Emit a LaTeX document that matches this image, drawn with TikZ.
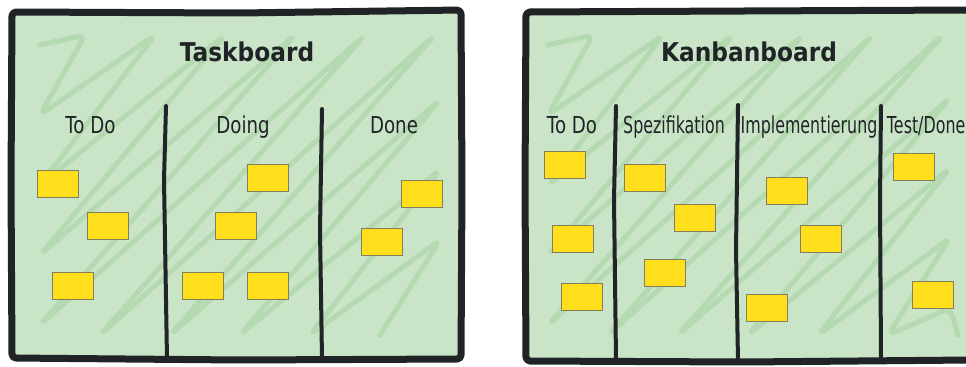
\documentclass[tikz,border=0pt]{standalone}
\usepackage{fontspec}
\setmainfont{DejaVu Sans}
\newfontfamily\boardfont[FakeStretch=0.9]{DejaVu Sans}
\newfontfamily\headfont[FakeStretch=0.78]{DejaVu Sans}
\newfontfamily\headnarrow[FakeStretch=0.68]{DejaVu Sans}
\usepackage{tikz}
\definecolor{boardgreen}{HTML}{C9E4C7}
\definecolor{scribblegreen}{HTML}{B5DAB2}
\definecolor{inkdark}{HTML}{212427}
\definecolor{stickyyellow}{HTML}{FFDE1C}
\definecolor{stickyedge}{HTML}{857E5A}

\begin{document}
\begin{tikzpicture}[x=0.75pt,y=-0.75pt,
  board/.style={draw=inkdark,line width=5.25pt,fill=boardgreen,line join=round,rounded corners=3pt},
  scribble/.style={draw=scribblegreen,line width=3.75pt,line cap=round,line join=round,rounded corners=6pt},
  divider/.style={draw=inkdark,line width=3pt,line cap=round},
  sticky/.style={draw=stickyedge,line width=0.75pt,fill=stickyyellow,minimum width=30.75pt,minimum height=20.25pt,inner sep=0pt},
  title/.style={font=\boardfont\bfseries\fontsize{19.4}{22}\selectfont,text=inkdark,anchor=base},
  colhead/.style={font=\headfont\fontsize{17.5}{20}\selectfont,text=inkdark,anchor=base,inner sep=0pt},
  colnarrow/.style={font=\headnarrow\fontsize{17.5}{20}\selectfont,text=inkdark,anchor=base,inner sep=0pt}]
\useasboundingbox (0,0) rectangle (966,367);
\clip (0,0) rectangle (966,367);

% Taskboard
\draw[board] (12,12) -- (240,13) -- (461,10) -- (462,185) -- (461,359) -- (240,360) -- (12,358) -- (11,185) -- cycle;
\draw[scribble] (40,45) \foreach \s in {120,190,...,680} {
  -- ({min(440,\s-35)},{max(35,\s-440)}) -- ({max(40,\s-300)},{min(335,\s-5)}) };
\draw[divider] (166,106) -- (164,180) -- (167,359);
\draw[divider] (322,109) -- (320,230) -- (322,359);
\node[title] (tasktitle) at (247,62) {Taskboard};
\node[colhead] (todoA) at (90.5,133) {To Do};
\node[colhead] (doingA) at (243,133) {Doing};
\node[colhead] (doneA) at (394,133) {Done};
\node[sticky] (todoA1) at (57.8,183.5) {};
\node[sticky] (todoA2) at (107.8,225.8) {};
\node[sticky] (todoA3) at (72.8,285.8) {};
\node[sticky] (doingA1) at (267.8,177.8) {};
\node[sticky] (doingA2) at (235.8,225.8) {};
\node[sticky] (doingA3) at (202.8,285.8) {};
\node[sticky] (doingA4) at (267.8,285.8) {};
\node[sticky] (doneA1) at (422.2,193.8) {};
\node[sticky] (doneA2) at (382.2,241.8) {};

% Kanbanboard
\draw[board] (526,12) -- (745,11) -- (971,10) -- (972,185) -- (971,360) -- (745,362) -- (526,361) -- (525,185) -- cycle;
\draw[scribble] (548,45) \foreach \s in {628,698,...,1258} {
  -- ({min(950,\s-35)},{max(35,\s-950)}) -- ({max(548,\s-300)},{min(335,\s-513)}) };
\draw[divider] (616,106) -- (614,200) -- (616,359);
\draw[divider] (738,105) -- (736,250) -- (738,361);
\draw[divider] (881,106) -- (880,200) -- (881,359);
\node[title] (kanbantitle) at (749,62) {Kanbanboard};
\node[colhead] (todoB) at (572,133) {To Do};
\node[colnarrow] (spezB) at (674,133) {Spezifikation};
\node[colnarrow] (implB) at (809,133) {Implementierung};
\node[colnarrow,anchor=base west] (testB) at (886.7,133) {Test/Done};
\node[sticky] (todoB1) at (564.8,165.2) {};
\node[sticky] (todoB2) at (573.2,239.2) {};
\node[sticky] (todoB3) at (582.2,296.8) {};
\node[sticky] (spezB1) at (644.8,177.8) {};
\node[sticky] (spezB2) at (695.2,218.2) {};
\node[sticky] (spezB3) at (665.2,272.8) {};
\node[sticky] (implB1) at (787.2,191.2) {};
\node[sticky] (implB2) at (821.2,239.2) {};
\node[sticky] (implB3) at (766.5,308.2) {};
\node[sticky] (testB1) at (914.2,167.2) {};
\node[sticky] (testB2) at (933.2,295.2) {};
\end{tikzpicture}
\end{document}
